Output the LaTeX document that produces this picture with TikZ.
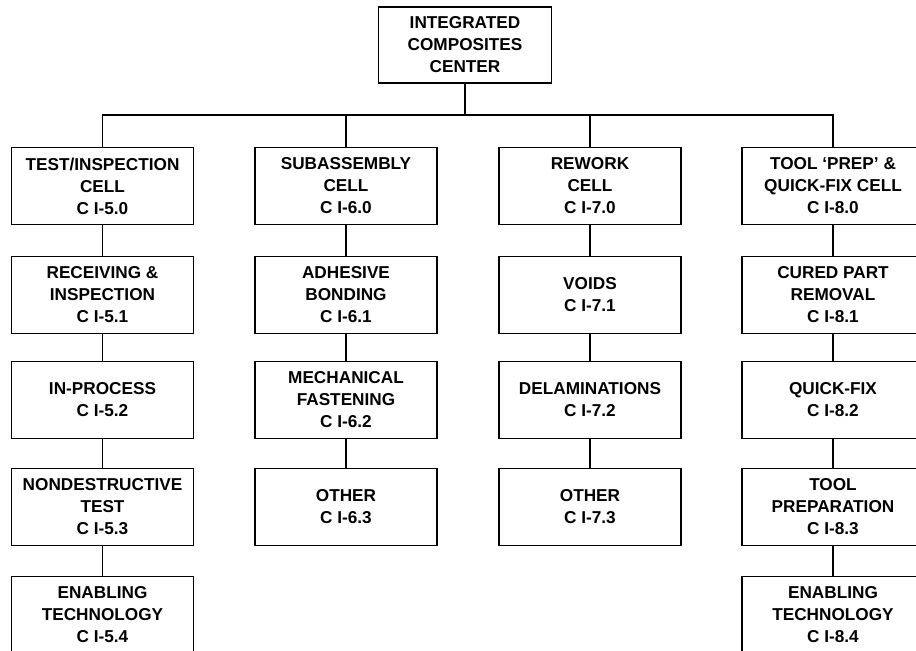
\documentclass[tikz,border=0pt]{standalone}
\usepackage{fontspec}
\setmainfont{Liberation Sans}
\usepackage{tikz}

\tikzset{
	cell/.style={shape=rectangle,draw=black,align=center,inner sep=1pt,
		minimum width=91pt,minimum height=38.5pt,
		font=\fontsize{8.6}{11}\selectfont\bfseries},
}

\begin{document}
\begin{tikzpicture}[x=0.5pt,y=-0.5pt,line width=0.9pt]
	\useasboundingbox (0,0) rectangle (916,651);

	\node[cell,minimum width=86.5pt,minimum height=38pt] (icc) at (465,45) {INTEGRATED\\COMPOSITES\\CENTER};
	\coordinate (bus) at (465,115);

	\node[cell] (test) at (102.5,186) {TEST/INSPECTION\\CELL\\C I-5.0};
	\node[cell] (receiving) at (102.5,295) {RECEIVING \&\\INSPECTION\\C I-5.1};
	\node[cell] (inProcess) at (102.5,400) {IN-PROCESS\\C I-5.2};
	\node[cell] (ndTest) at (102.5,507) {NONDESTRUCTIVE\\TEST\\C I-5.3};
	\node[cell] (enablingTest) at (102.5,615) {ENABLING\\TECHNOLOGY\\C I-5.4};

	\node[cell] (subassembly) at (346,186) {SUBASSEMBLY\\CELL\\C I-6.0};
	\node[cell] (adhesive) at (346,295) {ADHESIVE\\BONDING\\C I-6.1};
	\node[cell] (mechanical) at (346,400) {MECHANICAL\\FASTENING\\C I-6.2};
	\node[cell] (otherSub) at (346,507) {OTHER\\C I-6.3};

	\node[cell] (rework) at (590,186) {REWORK\\CELL\\C I-7.0};
	\node[cell] (voids) at (590,295) {VOIDS\\C I-7.1};
	\node[cell] (delam) at (590,400) {DELAMINATIONS\\C I-7.2};
	\node[cell] (otherRework) at (590,507) {OTHER\\C I-7.3};

	\node[cell] (toolPrep) at (833,186) {TOOL `PREP' \&\\QUICK-FIX CELL\\C I-8.0};
	\node[cell] (cured) at (833,295) {CURED PART\\REMOVAL\\C I-8.1};
	\node[cell] (quickFix) at (833,400) {QUICK-FIX\\C I-8.2};
	\node[cell] (preparation) at (833,507) {TOOL\\PREPARATION\\C I-8.3};
	\node[cell] (enablingTool) at (833,615) {ENABLING\\TECHNOLOGY\\C I-8.4};

	\draw (icc) -- (bus);
	\draw (test) |- (bus) -| (toolPrep);
	\draw (subassembly) -- (subassembly |- bus);
	\draw (rework) -- (rework |- bus);

	\path (test) edge (receiving);
	\path (receiving) edge (inProcess);
	\path (inProcess) edge (ndTest);
	\path (ndTest) edge (enablingTest);
	\path (subassembly) edge (adhesive);
	\path (adhesive) edge (mechanical);
	\path (mechanical) edge (otherSub);
	\path (rework) edge (voids);
	\path (voids) edge (delam);
	\path (delam) edge (otherRework);
	\path (toolPrep) edge (cured);
	\path (cured) edge (quickFix);
	\path (quickFix) edge (preparation);
	\path (preparation) edge (enablingTool);
\end{tikzpicture}
\end{document}
